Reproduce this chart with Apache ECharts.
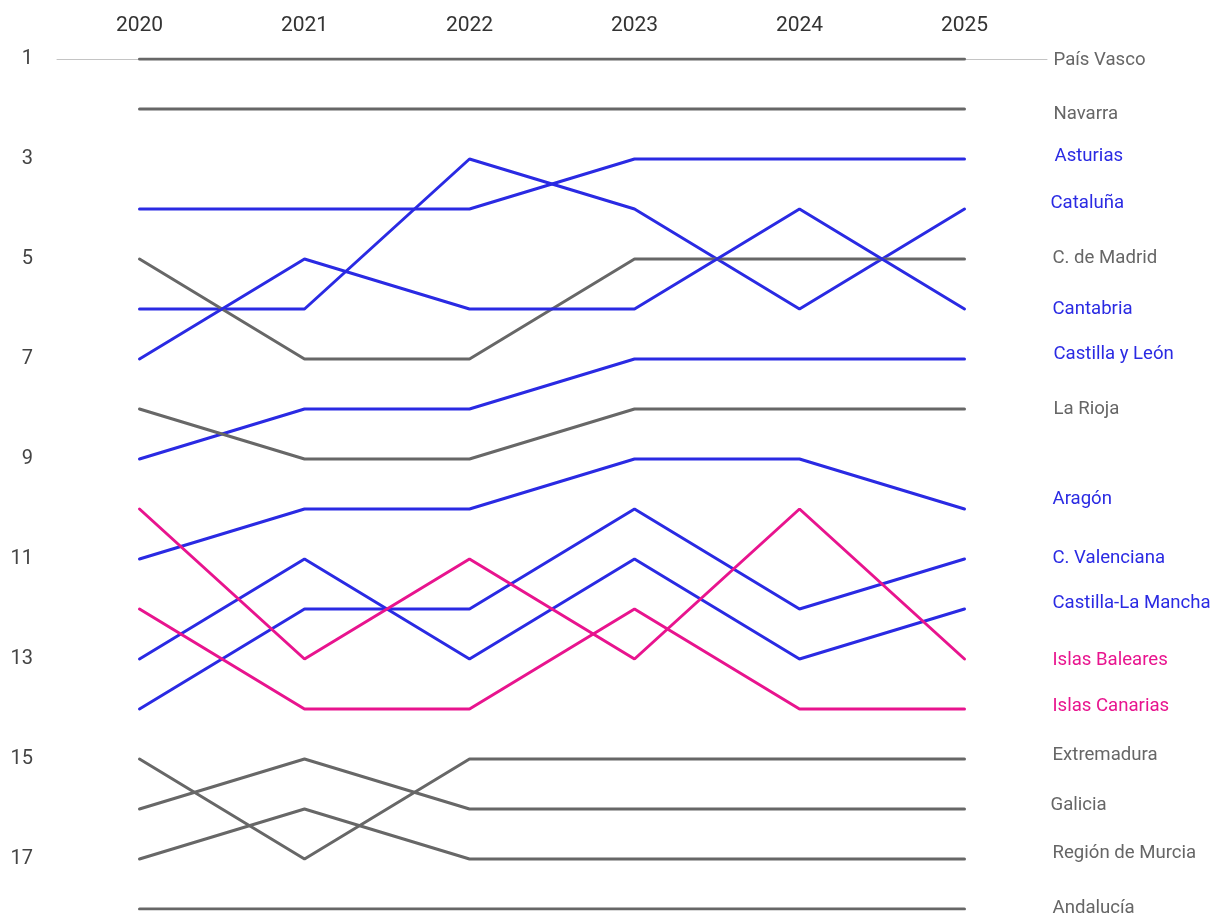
<!DOCTYPE html>
<html>
<head>
<meta charset="utf-8">
<script src="https://cdn.jsdelivr.net/npm/echarts@6/dist/echarts.min.js"></script>
<style>
  html, body { margin: 0; padding: 0; background: #fff; }
  #chart { width: 1214px; height: 915px; }
</style>
</head>
<body>
<div id="chart"></div>
<script>
// years on the top axis
const years = ["2020", "2021", "2022", "2023", "2024", "2025"];
// left axis rank labels
const rankTicks = [1, 3, 5, 7, 9, 11, 13, 15, 17];

// ranking per region, 2020 -> 2025
const paisVasco = [1, 1, 1, 1, 1, 1];
const navarra = [2, 2, 2, 2, 2, 2];
const asturias = [4, 4, 4, 3, 3, 3];
const cataluna = [6, 6, 3, 4, 6, 4];
const madrid = [5, 7, 7, 5, 5, 5];
const cantabria = [7, 5, 6, 6, 4, 6];
const castillaLeon = [9, 8, 8, 7, 7, 7];
const laRioja = [8, 9, 9, 8, 8, 8];
const aragon = [11, 10, 10, 9, 9, 10];
const valenciana = [14, 12, 12, 10, 12, 11];
const laMancha = [13, 11, 13, 11, 13, 12];
const baleares = [10, 13, 11, 13, 10, 13];
const canarias = [12, 14, 14, 12, 14, 14];
const extremadura = [15, 17, 15, 15, 15, 15];
const galicia = [16, 15, 16, 16, 16, 16];
const murcia = [17, 16, 17, 17, 17, 17];
const andalucia = [18, 18, 18, 18, 18, 18];

const GRAY = "#676767", BLUE = "#2a2ae3", PINK = "#e8148e";

// name, data, colour, small nudge of the end label [dx, dy]
const regions = [
  ["País Vasco", paisVasco, GRAY, [0, 1]],
  ["Navarra", navarra, GRAY, [0, 5]],
  ["Asturias", asturias, BLUE, [1, -3]],
  ["Cataluña", cataluna, BLUE, [-3, -6]],
  ["C. de Madrid", madrid, GRAY, [-1, -1]],
  ["Cantabria", cantabria, BLUE, [-1, 0]],
  ["Castilla y León", castillaLeon, BLUE, [0, -5]],
  ["La Rioja", laRioja, GRAY, [0, 0]],
  ["Aragón", aragon, BLUE, [-1, -10]],
  ["C. Valenciana", valenciana, BLUE, [-1, -1]],
  ["Castilla-La Mancha", laMancha, BLUE, [-1, -6]],
  ["Islas Baleares", baleares, PINK, [-1, 1]],
  ["Islas Canarias", canarias, PINK, [-1, -3]],
  ["Extremadura", extremadura, GRAY, [-1, -4]],
  ["Galicia", galicia, GRAY, [-3, -4]],
  ["Región de Murcia", murcia, GRAY, [-1, -6]],
  ["Andalucía", andalucia, GRAY, [-1, -1]]
];

const chart = echarts.init(document.getElementById("chart"));

let seriesData = regions.map(r => {
  return {
    name: r[0],
    type: "line",
    data: r[1],
    symbol: "none",
    silent: true,
    lineStyle: { color: r[2], width: 3, cap: "round" },
    endLabel: {
      show: true,
      formatter: r[0],
      color: r[2] === GRAY ? "#666666" : r[2],
      fontFamily: "Roboto",
      fontSize: 18.6,
      distance: 0,
      offset: [89 + r[3][0], r[3][1]],
      align: "left"
    }
  };
});

chart.setOption({
  animation: false,
  textStyle: { fontFamily: "Roboto" },
  grid: { left: 57, right: 167, top: 59, bottom: 6, containLabel: false },
  xAxis: {
    type: "category",
    position: "top",
    data: years,
    boundaryGap: true,
    axisLine: { show: true, onZero: false, lineStyle: { color: "#c4c4c4", width: 1 } },
    axisTick: { show: false },
    axisLabel: { color: "#333333", fontSize: 21, margin: 23, fontFamily: "Roboto" },
    splitLine: { show: false }
  },
  yAxis: {
    type: "value",
    inverse: true,
    min: 1,
    max: 18,
    interval: 2,
    axisLine: { show: false },
    axisTick: { show: false },
    splitLine: { show: false },
    axisLabel: {
      color: "#444444",
      fontSize: 20,
      margin: 24,
      fontFamily: "Roboto",
      formatter: v => (rankTicks.indexOf(v) >= 0 ? String(v) : "")
    }
  },
  series: seriesData
});
</script>
</body>
</html>
